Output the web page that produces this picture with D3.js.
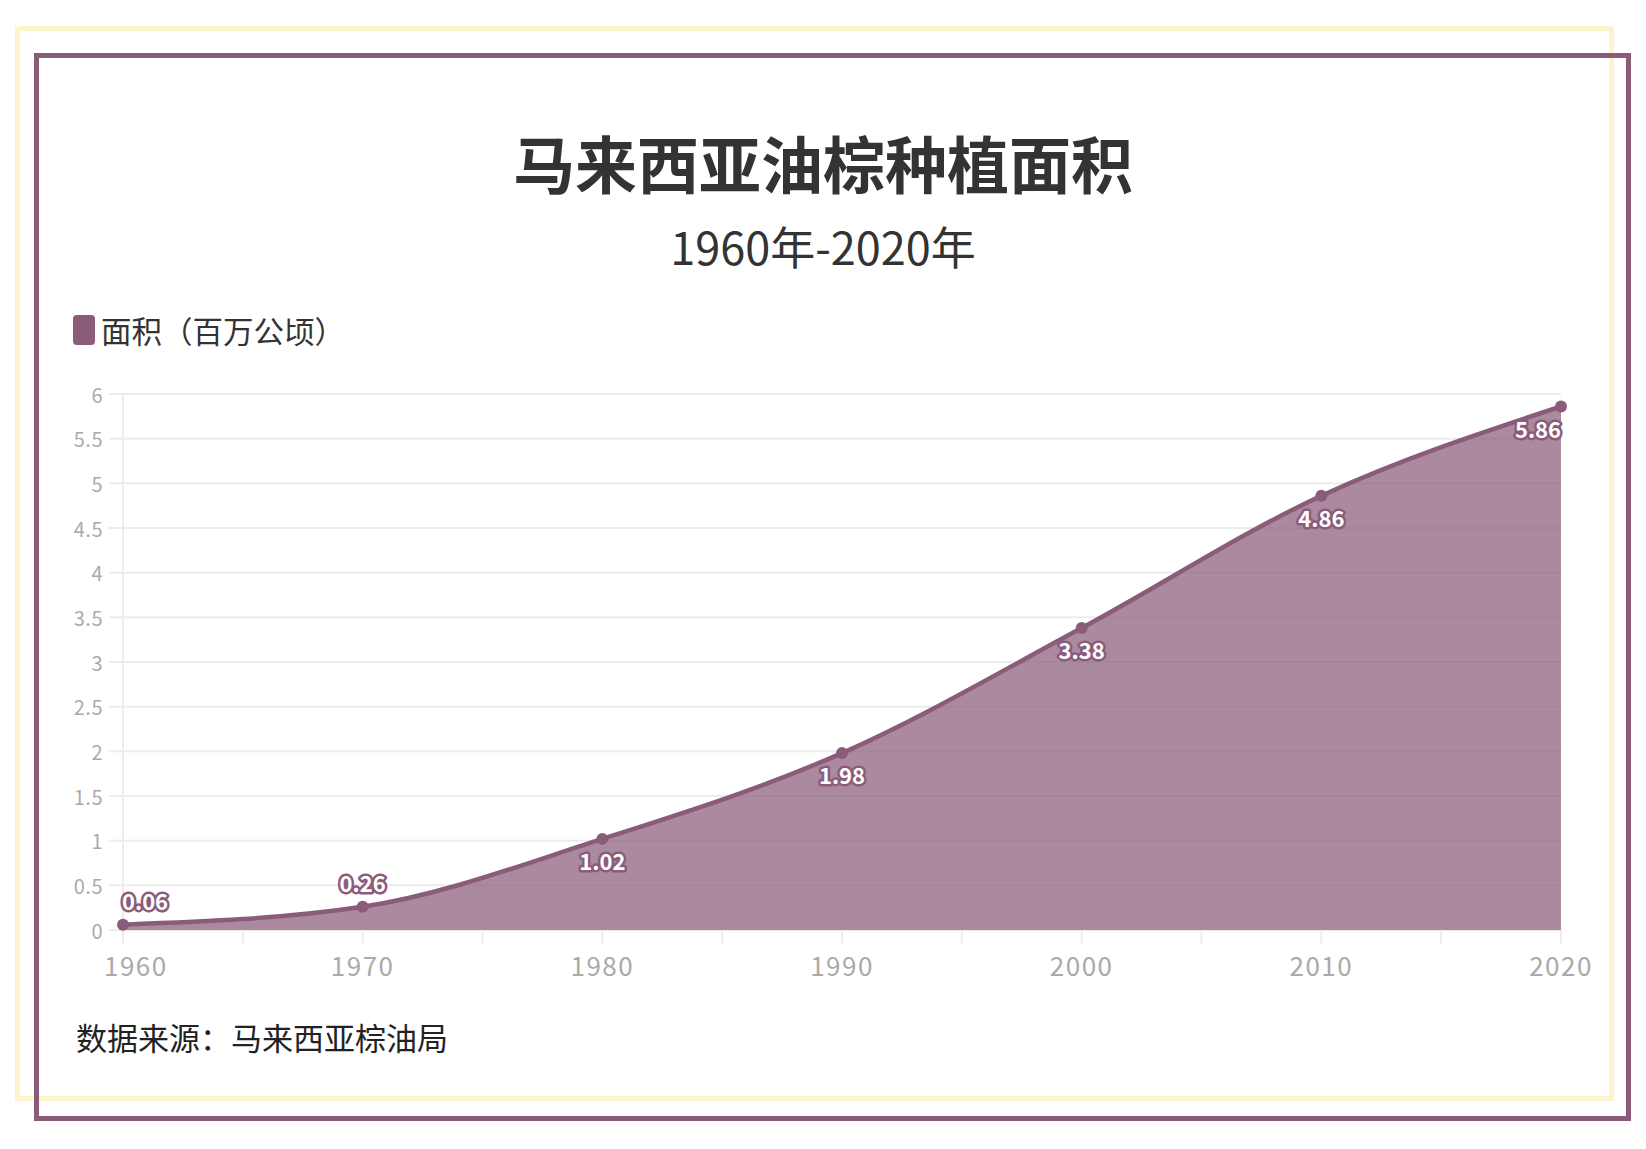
<!DOCTYPE html>
<html>
<head>
<meta charset="utf-8">
<script src="https://cdn.jsdelivr.net/npm/d3@7"></script>
<style>
html,body{margin:0;padding:0;background:#fff;}
svg{display:block;font-family:"Noto Sans CJK SC","Noto Sans",sans-serif;}
</style>
</head>
<body>
<svg id="chart" width="1646" height="1149"></svg>
<script>
const years = [1960, 1970, 1980, 1990, 2000, 2010, 2020];
const areas = [0.06, 0.26, 1.02, 1.98, 3.38, 4.86, 5.86];
const labelAbove = [true, true, false, false, false, false, false];
const yTicks = [0, 0.5, 1, 1.5, 2, 2.5, 3, 3.5, 4, 4.5, 5, 5.5, 6];
const xTicks = [1960, 1970, 1980, 1990, 2000, 2010, 2020];
const xMinorTicks = [1965, 1975, 1985, 1995, 2005, 2015];
const titleText = "马来西亚油棕种植面积";
const subtitleText = "1960年-2020年";
const legendText = "面积（百万公顷）";
const sourceText = "数据来源：马来西亚棕油局";

const main = "#8b5c7a";
const svg = d3.select("#chart");

// decorative frames
svg.append("rect").attr("x",17.5).attr("y",28.5).attr("width",1594).attr("height",1070)
  .attr("fill","none").attr("stroke","#fdf3cc").attr("stroke-width",5);
svg.append("rect").attr("x",36.5).attr("y",55.5).attr("width",1592).attr("height",1063)
  .attr("fill","none").attr("stroke",main).attr("stroke-width",5);

// titles
svg.append("text").attr("x",823).attr("y",162).attr("text-anchor","middle")
  .attr("dominant-baseline","central").attr("font-size",62).attr("font-weight","bold")
  .attr("fill","#333").text(titleText);
svg.append("text").attr("x",823).attr("y",245).attr("text-anchor","middle")
  .attr("dominant-baseline","central").attr("font-size",45).attr("fill","#333").text(subtitleText);

// legend
svg.append("rect").attr("x",73).attr("y",315).attr("width",22).attr("height",30)
  .attr("rx",4).attr("fill",main);
svg.append("text").attr("x",101).attr("y",330).attr("dominant-baseline","central")
  .attr("font-size",30.5).attr("fill","#333").text(legendText);

// scales
const x = d3.scaleLinear().domain([1960, 2020]).range([123, 1561]);
const y = d3.scaleLinear().domain([0, 6]).range([930, 394]);

// grid lines
const g = svg.append("g");
g.selectAll(".grid").data(yTicks).join("line")
  .attr("x1",109).attr("x2",1561)
  .attr("y1",d=>y(d)).attr("y2",d=>y(d))
  .attr("stroke","#ececec").attr("stroke-width",2);
// y axis line
g.append("line").attr("x1",123).attr("x2",123).attr("y1",394).attr("y2",944)
  .attr("stroke","#ececec").attr("stroke-width",2);
// y labels
g.selectAll(".yl").data(yTicks).join("text")
  .attr("x",103).attr("y",d=>y(d)).attr("text-anchor","end")
  .attr("dominant-baseline","central").attr("font-size",20).attr("fill","#aaa")
  .attr("letter-spacing",0.5)
  .text(d=>d);
// x axis ticks
g.selectAll(".xt").data(xTicks.concat(xMinorTicks)).join("line")
  .attr("x1",d=>x(d)).attr("x2",d=>x(d)).attr("y1",930).attr("y2",944)
  .attr("stroke","#ececec").attr("stroke-width",2);
// x labels
g.selectAll(".xl").data(xTicks).join("text")
  .attr("y",964).attr("dominant-baseline","central").attr("text-anchor","middle")
  .attr("font-size",26).attr("fill","#aaa").attr("letter-spacing",1.5)
  .text(d=>d)
  .each(function(d){
    const w = this.getComputedTextLength();
    let cx = x(d);
    if (cx - w/2 < 104) cx = 104 + w/2;
    d3.select(this).attr("x", cx);
  });

// area + line
const pts = years.map((yr,i)=>[yr, areas[i]]);
const curve = d3.curveMonotoneX;
const area = d3.area().x(d=>x(d[0])).y0(y(0)).y1(d=>y(d[1])).curve(curve);
const line = d3.line().x(d=>x(d[0])).y(d=>y(d[1])).curve(curve);
svg.append("path").datum(pts).attr("d",area).attr("fill",main).attr("fill-opacity",0.72);
svg.append("path").datum(pts).attr("d",line).attr("fill","none")
  .attr("stroke",main).attr("stroke-width",4.5).attr("stroke-linejoin","round");
svg.selectAll(".pt").data(pts).join("circle")
  .attr("cx",d=>x(d[0])).attr("cy",d=>y(d[1])).attr("r",6).attr("fill",main);

// data labels
svg.selectAll(".dl").data(pts).join("text")
  .attr("y",(d,i)=>y(d[1]) + (labelAbove[i] ? -25 : 21))
  .attr("dominant-baseline","central").attr("text-anchor","middle")
  .attr("font-size",22).attr("font-weight","bold")
  .attr("fill","#fff").attr("stroke",main).attr("stroke-width",5)
  .attr("stroke-linejoin","round").attr("paint-order","stroke")
  .text(d=>d[1].toFixed(2))
  .each(function(d){
    const w = this.getComputedTextLength();
    let cx = x(d[0]);
    if (cx - w/2 < 122) cx = 122 + w/2;
    if (cx + w/2 > 1561) cx = 1561 - w/2;
    d3.select(this).attr("x", cx);
  });

// source
svg.append("text").attr("x",76).attr("y",1036).attr("dominant-baseline","central")
  .attr("font-size",31).attr("fill","#222").text(sourceText);
</script>
</body>
</html>
